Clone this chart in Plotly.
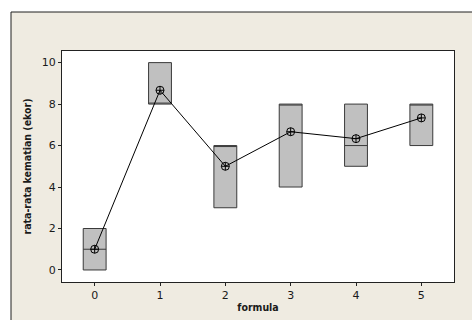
import plotly.graph_objects as go

formula = [0, 1, 2, 3, 4, 5]
q1 = [0, 8, 3, 4, 5, 6]
median = [1, 8, 6, 8, 6, 8]
q3 = [2, 10, 6, 8, 8, 8]
mean = [1.0, 8.667, 5.0, 6.667, 6.333, 7.333]
y_ticks = [0, 2, 4, 6, 8, 10]
x_ticks = [0, 1, 2, 3, 4, 5]

W, H = 472, 320
L, R, T, B = 62, 454, 51, 282

fig = go.Figure()
fig.add_trace(go.Box(
    x=formula, q1=q1, median=median, q3=q3,
    lowerfence=q1, upperfence=q3,
    fillcolor="#c0c0c0", line=dict(color="#3a3a3a", width=1),
    width=0.35, boxpoints=False, whiskerwidth=0, showlegend=False,
    hoverinfo="skip",
))
fig.add_trace(go.Scatter(
    x=formula, y=mean, mode="lines+markers",
    line=dict(color="#000000", width=1),
    marker=dict(symbol="circle-cross-open", size=8, color="#000000", line=dict(width=1)),
    showlegend=False,
))

pw = R - L
ph = B - T
fig.add_shape(type="rect", xref="paper", yref="paper",
              x0=(11 - L) / pw, x1=(W + 5 - L) / pw,
              y0=(B - (H + 5)) / ph, y1=(B - 12) / ph,
              fillcolor="#efebe1", line=dict(color="#202020", width=1), layer="below")
fig.add_shape(type="rect", xref="paper", yref="paper",
              x0=0, x1=1, y0=0, y1=1,
              fillcolor="#ffffff", line=dict(width=0), layer="below")

fig.update_layout(
    width=W, height=H,
    margin=dict(l=L, r=W - R, t=T, b=H - B),
    paper_bgcolor="#ffffff", plot_bgcolor="#ffffff",
    font=dict(family="DejaVu Sans", size=11, color="#1a1a1a"),
    xaxis=dict(range=[-0.5, 5.5], tickvals=x_ticks, ticks="outside", ticklen=3,
               tickcolor="#222222", showline=True, linecolor="#222222", linewidth=1,
               mirror=True, showgrid=False, zeroline=False, automargin=False,
               title=dict(text="<b>formula</b>", font=dict(size=10.5, family="DejaVu Sans Condensed"), standoff=2)),
    yaxis=dict(range=[-0.58, 10.56], tickvals=y_ticks, ticks="outside", ticklen=3,
               tickcolor="#222222", showline=True, linecolor="#222222", linewidth=1,
               mirror=True, showgrid=False, zeroline=False, automargin=False,
               title=dict(text="<b>rata-rata kematian (ekor)</b>", font=dict(size=10.5, family="DejaVu Sans Condensed"), standoff=8)),
)

fig.write_html("out.html", config={"displayModeBar": False},
               post_script="document.body.style.margin='0';document.body.style.padding='0';")
